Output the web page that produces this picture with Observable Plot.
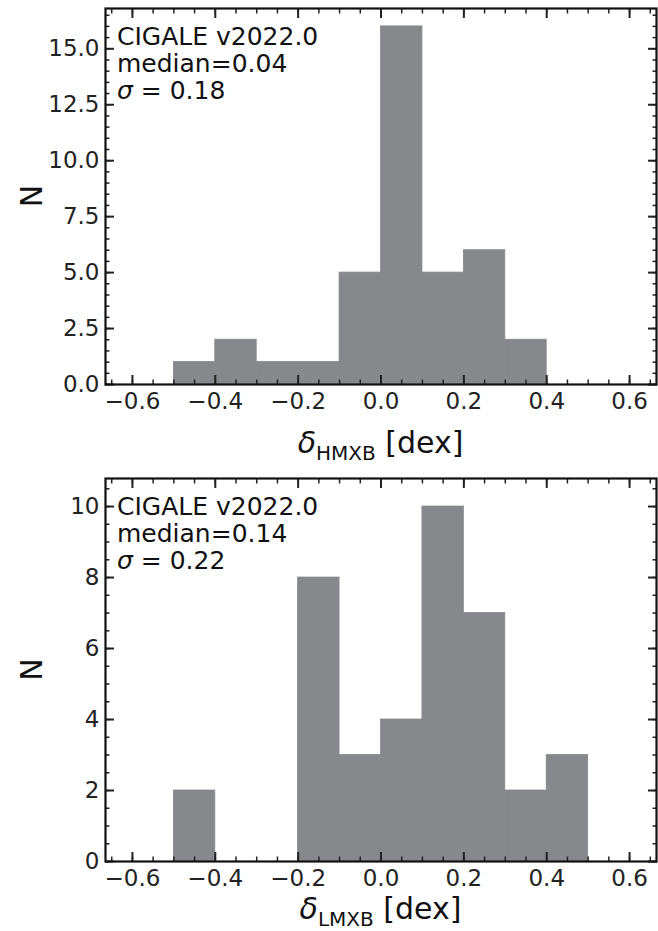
<!DOCTYPE html>
<html><head><meta charset="utf-8">
<script src="https://cdn.jsdelivr.net/npm/d3@7"></script>
<script src="https://cdn.jsdelivr.net/npm/@observablehq/plot@0.6"></script>
<style>body{margin:0;background:#fff;font-family:"DejaVu Sans";} svg{display:block}</style>
</head><body><div id="c"></div>
<script>
const binEdges = [-0.5,-0.4,-0.3,-0.2,-0.1,0.0,0.1,0.2,0.3,0.4,0.5];
const hmxbCounts = [1,2,1,1,5,16,5,6,2,0];
const lmxbCounts = [2,0,0,8,3,4,10,7,2,3];
const xTicks = [-0.6,-0.4,-0.2,0.0,0.2,0.4,0.6];
const hmxbYTicks = [0,2.5,5,7.5,10,12.5,15];
const lmxbYTicks = [0,2,4,6,8,10];
const hmxbText = ["CIGALE v2022.0","median=0.04","0.18"];
const lmxbText = ["CIGALE v2022.0","median=0.14","0.22"];

function panel(counts, yTicks, yMax, yMinorStep, fmt, sub, lines, height, mt, mb){
  const bins = counts.map((c,i)=>({x1:binEdges[i],x2:binEdges[i+1],n:c})).filter(d=>d.n>0);
  const xMinor = d3.range(-0.65,0.651,0.05).map(v=>+v.toFixed(2));
  const yMinor = d3.range(0,yMax,yMinorStep);
  const p = Plot.plot({
    width:658, height, marginTop:mt, marginBottom:mb, marginLeft:105, marginRight:2,
    style:{fontFamily:"DejaVu Sans",fontSize:"22px",color:"#222"},
    x:{domain:[-0.665,0.665]}, y:{domain:[0,yMax]},
    marks:[
      Plot.rectY(bins,{x1:"x1",x2:"x2",y:"n",fill:"#87888c",stroke:"#87888c",strokeWidth:0.8,inset:0}),
      Plot.axisX({ticks:xTicks,tickSize:0,tickPadding:8,tickFormat:d=>d3.format(".1f")(d).replace("-","−"),fontSize:23,label:null}),
      Plot.axisX({ticks:xTicks,tickSize:-9,strokeWidth:2,text:null,label:null}),
      Plot.axisX({ticks:xMinor,tickSize:-4.5,strokeWidth:1.5,text:null,label:null}),
      Plot.axisX({anchor:"top",ticks:xTicks,tickSize:-9,strokeWidth:2,text:null,label:null}),
      Plot.axisX({anchor:"top",ticks:xMinor,tickSize:-4.5,strokeWidth:1.5,text:null,label:null}),
      Plot.axisY({ticks:yTicks,tickSize:0,tickPadding:6,tickFormat:fmt,fontSize:23,label:null}),
      Plot.axisY({ticks:yTicks,tickSize:-9,strokeWidth:2,text:null,label:null}),
      Plot.axisY({ticks:yMinor,tickSize:-4.5,strokeWidth:1.5,text:null,label:null}),
      Plot.axisY({anchor:"right",ticks:yTicks,tickSize:-9,strokeWidth:2,text:null,label:null}),
      Plot.axisY({anchor:"right",ticks:yMinor,tickSize:-4.5,strokeWidth:1.5,text:null,label:null}),
      Plot.frame({stroke:"#111",strokeWidth:2.2})
    ]
  });
  const svg = d3.select(p);
  const ann = svg.append("g").attr("font-size",25).attr("font-family","DejaVu Sans").attr("fill","#111").attr("text-anchor","start");
  ann.append("text").attr("x",117).attr("y",mt+37).text(lines[0]);
  ann.append("text").attr("x",117).attr("y",mt+64).text(lines[1]);
  const s = ann.append("text").attr("x",117).attr("y",mt+91);
  s.append("tspan").attr("font-style","italic").text("σ");
  s.append("tspan").text(" = " + lines[2]);
  const cx = 105 + (658-107)/2;
  const t = svg.append("text").attr("x",cx).attr("y",height-12).attr("text-anchor","middle")
    .attr("font-size",30).attr("font-family","DejaVu Sans").attr("fill","#111");
  t.append("tspan").attr("font-style","italic").text("δ");
  t.append("tspan").attr("font-size",20).attr("dy",7).text(sub);
  t.append("tspan").attr("dy",-7).text(" [dex]");
  svg.append("text").attr("transform",`translate(42,${mt+(height-mt-mb)/2}) rotate(-90)`)
    .attr("text-anchor","middle").attr("font-size",30).attr("font-family","DejaVu Sans").attr("fill","#111").text("N");
  return p;
}
const c = document.getElementById("c");
c.append(panel(hmxbCounts,hmxbYTicks,16.8,0.5,d=>d3.format(".1f")(d),"HMXB",hmxbText,465,8,81));
c.append(panel(lmxbCounts,lmxbYTicks,10.79,0.5,d=>d3.format("d")(d),"LMXB",lmxbText,466,13,70));
</script></body></html>
